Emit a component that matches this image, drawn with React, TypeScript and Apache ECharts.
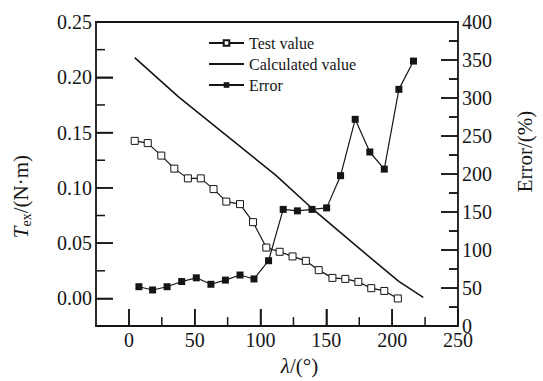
import React, { useEffect, useRef } from "react";
import * as echarts from "echarts";

const testX = [4.4, 14.3, 24.6, 34.5, 44.8, 54.6, 64.3, 74, 84.4, 94.3, 104.4, 114.5, 124.3, 134.4, 144.2, 154.6, 164.4, 174.3, 184.1, 194, 204.3];
const testY = [0.1425, 0.1405, 0.1292, 0.1174, 0.1086, 0.1086, 0.0989, 0.0876, 0.0853, 0.069, 0.046, 0.0422, 0.038, 0.034, 0.0256, 0.0186, 0.0177, 0.015, 0.0093, 0.0068, 0.0];

const calcX = [4.4, 37.7, 111.5, 138.6, 185.4, 205, 223.6];
const calcY = [0.2177, 0.1823, 0.1115, 0.082, 0.0348, 0.0155, 0.001];

const errX = [7.6, 18, 29, 40.1, 51.2, 62.3, 73.3, 84.4, 95, 106.1, 117.2, 128, 139.1, 150.2, 160.8, 171.9, 183, 194, 205.1, 216.2];
const errY = [51.8, 47.5, 51.8, 58.7, 63.5, 55, 60.5, 67.2, 62, 86, 153.5, 151.6, 153.5, 155.5, 197.9, 272, 229, 206.5, 311.4, 348.6];

const xMajor = [0, 50, 100, 150, 200, 250];
const xMinor = [25, 75, 125, 175, 225];
const yMajor = [0, 0.05, 0.1, 0.15, 0.2, 0.25];
const yMinor = [0.025, 0.075, 0.125, 0.175, 0.225];
const rMajor = [0, 50, 100, 150, 200, 250, 300, 350, 400];
const rMinor = [25, 75, 125, 175, 225, 275, 325, 375];

const X_MIN = -25;
const X_MAX = 250;
const Y_MIN = -0.025;
const Y_MAX = 0.25;

const FONT = "Liberation Serif";
const INK = "#151515";
const MAJOR = 17;
const MINOR = 9;

const zip = (a: number[], b: number[]) => a.map((v, i) => [v, b[i]]);

export default function App() {
  const ref = useRef<HTMLDivElement>(null);
  useEffect(() => {
    if (!ref.current) return;
    const chart = echarts.init(ref.current, undefined, { renderer: "svg" });
    const labelStyle = { fontFamily: FONT, fontSize: 20, color: INK };
    const tl = () => ({ color: INK, width: 1.5 });
    chart.setOption({
      animation: false,
      backgroundColor: "#fff",
      grid: { left: 96, right: 76, top: 22, bottom: 46 },
      legend: {
        orient: "vertical",
        left: 208,
        top: 35,
        padding: 0,
        itemWidth: 35,
        itemHeight: 7,
        itemGap: 5,
        selectedMode: false,
        textStyle: { fontFamily: FONT, fontSize: 16, color: INK },
        data: [
          "Test value",
          { name: "Calculated value", itemStyle: { color: "transparent", borderColor: "transparent", borderWidth: 0, opacity: 0 } },
          "Error",
        ],
      },
      xAxis: [
        {
          type: "value",
          min: X_MIN,
          max: X_MAX,
          position: "bottom",
          name: "{i|λ}/(°)",
          nameLocation: "middle",
          nameGap: 28,
          nameTextStyle: {
            fontFamily: FONT,
            fontSize: 21,
            color: INK,
            padding: [0, 0, 0, 45],
            rich: { i: { fontFamily: FONT, fontSize: 21, fontStyle: "italic", color: INK } },
          },
          axisLine: { show: true, onZero: false, lineStyle: { color: INK, width: 1.8 } },
          axisTick: { show: true, customValues: xMajor, inside: true, length: MAJOR, lineStyle: tl() },
          axisLabel: { customValues: xMajor, margin: 4, ...labelStyle },
          splitLine: { show: false },
        },
        {
          type: "value",
          min: X_MIN,
          max: X_MAX,
          position: "top",
          axisLine: { show: true, onZero: false, lineStyle: { color: INK, width: 1.8 } },
          axisTick: { show: false },
          axisLabel: { show: false },
          splitLine: { show: false },
        },
      ],
      yAxis: [
        {
          type: "value",
          min: Y_MIN,
          max: Y_MAX,
          position: "left",
          name: "{i|T}{s|ex}{n|/(N·m)}",
          nameLocation: "middle",
          nameRotate: 90,
          nameGap: 63,
          nameTextStyle: {
            fontFamily: FONT,
            fontSize: 21,
            color: INK,
            padding: [0, 45, 0, 0],
            rich: {
              i: { fontFamily: FONT, fontSize: 21, fontStyle: "italic", color: INK, lineHeight: 24 },
              s: { fontFamily: FONT, fontSize: 14, color: INK, verticalAlign: "bottom", lineHeight: 14 },
              n: { fontFamily: FONT, fontSize: 21, color: INK, lineHeight: 24 },
            },
          },
          axisLine: { show: true, onZero: false, lineStyle: { color: INK, width: 1.8 } },
          axisTick: { show: true, customValues: yMajor, inside: true, length: MAJOR, lineStyle: tl() },
          axisLabel: { customValues: yMajor, margin: 4, formatter: (v: number) => v.toFixed(2), ...labelStyle },
          splitLine: { show: false },
        },
        {
          type: "value",
          min: 0,
          max: 400,
          interval: 50,
          position: "right",
          name: "Error/(%)",
          nameLocation: "middle",
          nameRotate: 90,
          nameGap: 56,
          nameTextStyle: { fontFamily: FONT, fontSize: 21, color: INK, padding: [0, 0, 0, 45] },
          axisLine: { show: true, onZero: false, lineStyle: { color: INK, width: 1.8 } },
          axisTick: { show: true, inside: true, length: MAJOR, lineStyle: tl() },
          minorTick: { show: true, splitNumber: 2, length: MINOR, lineStyle: tl() },
          axisLabel: { margin: 4, ...labelStyle },
          splitLine: { show: false },
        },
      ],
      series: [
        {
          name: "Test value",
          type: "line",
          data: zip(testX, testY),
          symbol: "rect",
          symbolSize: 7,
          itemStyle: { color: "#fff", borderColor: INK, borderWidth: 1 },
          lineStyle: { color: INK, width: 1.2 },
          z: 3,
        },
        {
          name: "Calculated value",
          type: "line",
          data: zip(calcX, calcY),
          symbol: "none",
          showSymbol: false,
          itemStyle: { color: INK },
          lineStyle: { color: INK, width: 1.6 },
          z: 2,
        },
        {
          name: "Error",
          type: "line",
          yAxisIndex: 1,
          data: zip(errX, errY),
          symbol: "rect",
          symbolSize: 7,
          itemStyle: { color: INK },
          lineStyle: { color: INK, width: 1.2 },
          z: 4,
        },
      ],
    });

    // extra tick marks (minor ones and a fallback for major ones), placed via the axes' scales
    try {
      const elements: any[] = [];
      const add = (p: number[], dx: number, dy: number) => {
        if (!p || !isFinite(p[0]) || !isFinite(p[1])) return;
        elements.push({
          type: "line",
          z: 100,
          silent: true,
          shape: { x1: p[0], y1: p[1], x2: p[0] + dx, y2: p[1] + dy },
          style: { stroke: INK, lineWidth: 1.5 },
        });
      };
      const leftFinder = { xAxisIndex: 0, yAxisIndex: 0 };
      const rightFinder = { xAxisIndex: 0, yAxisIndex: 1 };
      xMajor.forEach((v) => add(chart.convertToPixel(leftFinder, [v, Y_MIN]) as number[], 0, -MAJOR));
      xMinor.forEach((v) => add(chart.convertToPixel(leftFinder, [v, Y_MIN]) as number[], 0, -MINOR));
      yMajor.forEach((v) => add(chart.convertToPixel(leftFinder, [X_MIN, v]) as number[], MAJOR, 0));
      yMinor.forEach((v) => add(chart.convertToPixel(leftFinder, [X_MIN, v]) as number[], MINOR, 0));
      rMajor.forEach((v) => add(chart.convertToPixel(rightFinder, [X_MAX, v]) as number[], -MAJOR, 0));
      rMinor.forEach((v) => add(chart.convertToPixel(rightFinder, [X_MAX, v]) as number[], -MINOR, 0));
      chart.setOption({ graphic: { elements } });
    } catch (e) {
      // keep chart without extra ticks
    }
    return () => chart.dispose();
  }, []);
  return <div ref={ref} style={{ position: "fixed", left: 0, top: 0, width: 543, height: 381 }} />;
}
